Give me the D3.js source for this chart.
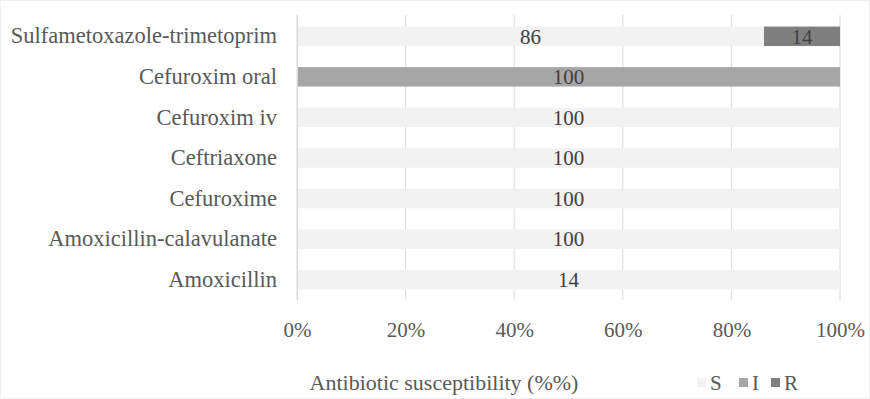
<!DOCTYPE html>
<html><head><meta charset="utf-8">
<script src="https://cdn.jsdelivr.net/npm/d3@7"></script>
<style>body{margin:0;background:#fff}svg{display:block}svg text{font-family:"Liberation Serif",serif !important}</style>
</head><body><svg id="c" width="870" height="399" font-family="Liberation Serif"></svg>
<script>
const categories = ["Sulfametoxazole-trimetoprim","Cefuroxim oral","Cefuroxim iv","Ceftriaxone","Cefuroxime","Amoxicillin-calavulanate","Amoxicillin"];
const seriesNames = ["S","I","R"];
const sValues = [86,0,100,100,100,100,100];
const iValues = [0,100,0,0,0,0,0];
const rValues = [14,0,0,0,0,0,0];
const sLabels = ["86","","100","100","100","100","14"];
const iLabels = ["","100","","","","",""];
const rLabels = ["14","","","","","",""];
const tickValues = [0,0.2,0.4,0.6,0.8,1.0];
const colors = ["#f2f2f2","#a6a6a6","#7f7f7f"];
const FONT = "Liberation Serif";

const svg = d3.select("#c");
svg.append("rect").attr("x",0.5).attr("y",0.5).attr("width",869).attr("height",398).attr("fill","none").attr("stroke","#f0f0f0");

const x = d3.scaleLinear().domain([0,1]).range([297,840]);
const y = d3.scaleBand().domain(categories).range([16,300]).paddingInner(0.52).paddingOuter(0.26);

svg.append("g").selectAll("line").data(tickValues).join("line")
  .attr("x1",d=>x(d)).attr("x2",d=>x(d)).attr("y1",15).attr("y2",300)
  .attr("stroke","#d9d9d9").attr("stroke-width",1);

const rows = categories.map((c,i)=>({c, vals:[sValues[i],iValues[i],rValues[i]], labs:[sLabels[i],iLabels[i],rLabels[i]]}));
const segs = [];
rows.forEach(r=>{let acc=0; r.vals.forEach((v,k)=>{segs.push({c:r.c,k,x0:acc/100,x1:(acc+v)/100,lab:r.labs[k]}); acc+=v;});});

svg.append("g").selectAll("rect").data(segs.filter(s=>s.x1>s.x0)).join("rect")
  .attr("x",d=>x(d.x0)).attr("width",d=>x(d.x1)-x(d.x0))
  .attr("y",d=>y(d.c)).attr("height",y.bandwidth())
  .attr("fill",d=>colors[d.k]);

svg.append("g").selectAll("text").data(segs.filter(s=>s.lab!=="")).join("text")
  .attr("x",d=>x((d.x0+d.x1)/2)).attr("y",d=>y(d.c)+y.bandwidth()/2)
  .attr("dy","0.35em").attr("text-anchor","middle")
  .attr("font-family",FONT).attr("font-size",21).attr("fill","#404040")
  .text(d=>d.lab);

const ay = svg.append("g").attr("transform","translate(297,0)").call(d3.axisLeft(y).tickSize(0).tickPadding(20));
ay.attr("font-family",FONT);
ay.select(".domain").attr("stroke","#d9d9d9");
ay.selectAll("text").attr("font-family",FONT).attr("font-size",22.5).attr("fill","#595959");

const ax = svg.append("g").attr("transform","translate(0,300)").call(d3.axisBottom(x).tickValues(tickValues).tickFormat(d3.format(".0%")).tickSize(0).tickPadding(22));
ax.attr("font-family",FONT);
ax.select(".domain").remove();
ax.selectAll("text").attr("font-family",FONT).attr("font-size",21).attr("fill","#595959");

svg.append("text").attr("x",444).attr("y",390).attr("text-anchor","middle")
  .attr("font-family",FONT).attr("font-size",22).attr("fill","#595959").text("Antibiotic susceptibility (%%)");

const lg = svg.append("g").attr("transform","translate(697,383)");
const lx = [0,42,74];
seriesNames.forEach((n,i)=>{
  const g = lg.append("g").attr("transform",`translate(${lx[i]},0)`);
  g.append("rect").attr("x",0).attr("y",-5).attr("width",9).attr("height",9).attr("fill",colors[i]);
  g.append("text").attr("x",13).attr("y",0).attr("dy","0.35em")
    .attr("font-family",FONT).attr("font-size",21).attr("fill","#595959").text(n);
});
</script></body></html>
